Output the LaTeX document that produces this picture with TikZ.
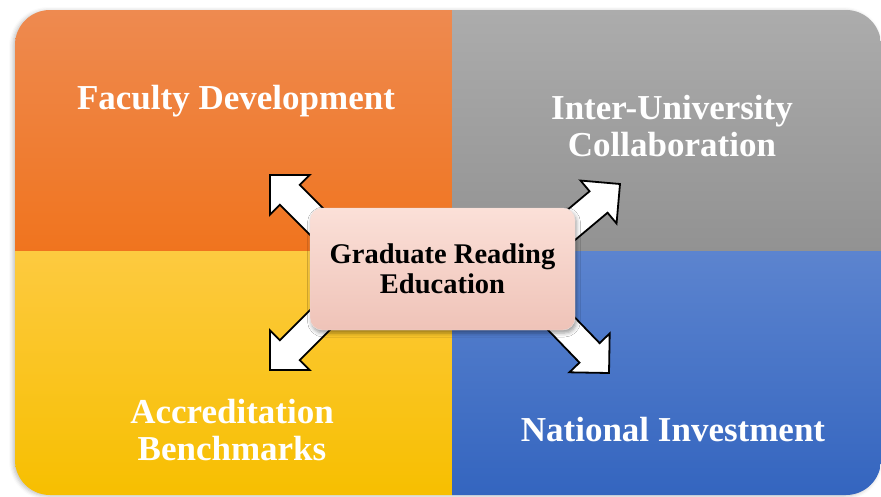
\documentclass[tikz,border=0pt]{standalone}
\usepackage{fontspec}
\setmainfont{Liberation Serif}
\usetikzlibrary{shadows.blur}

\definecolor{orgTop}{HTML}{EE8A50}
\definecolor{orgBot}{HTML}{F0741E}
\definecolor{gryTop}{HTML}{ACACAC}
\definecolor{gryBot}{HTML}{929292}
\definecolor{ylwTop}{HTML}{FDCA40}
\definecolor{ylwBot}{HTML}{F7BF00}
\definecolor{bluTop}{HTML}{5C84CF}
\definecolor{bluBot}{HTML}{3465BF}
\definecolor{boxTop}{HTML}{FBE0D8}
\definecolor{boxBot}{HTML}{EFC3B8}

\tikzset{
  quadlabel/.style={text=white, font=\bfseries\fontsize{35}{37}\selectfont, align=center, inner sep=0pt},
  hublabel/.style={text=black, font=\bfseries\fontsize{28.5}{30}\selectfont, align=center},
  hubbox/.style={rounded corners=12pt, minimum width=265pt, minimum height=122pt,
    top color=boxTop, bottom color=boxBot, draw=boxBot!80!black!30,
    blur shadow={shadow xshift=1.5pt, shadow yshift=-3pt, shadow opacity=40, shadow blur radius=4pt}},
  blockarrow/.style={draw=black, line width=1.8pt, fill=white, line join=miter},
}

% block arrow: tip coordinate, direction angle
\newcommand\spoke[2]{%
  \begin{scope}[shift={#1}, rotate=#2]
    \path[blockarrow] (0,0) -- (-28,28) -- (-28,14) -- (-82,14)
      -- (-82,-14) -- (-28,-14) -- (-28,-28) -- cycle;
  \end{scope}}

\begin{document}
\begin{tikzpicture}[x=1pt,y=-1pt]
\useasboundingbox (0,0) rectangle (881,496);

% soft shadow of the panel
\path[rounded corners=35pt, blur shadow={shadow xshift=-2pt, shadow yshift=-1pt, shadow opacity=25, shadow blur radius=4pt}]
  (15,10) rectangle (881,495);

% four quadrants
\begin{scope}
  \clip[rounded corners=35pt] (15,10) rectangle (881,495);
  \shade[top color=orgTop, bottom color=orgBot] (15,10) rectangle (452,251);
  \shade[top color=gryTop, bottom color=gryBot] (452,10) rectangle (881,251);
  \shade[top color=ylwTop, bottom color=ylwBot] (15,251) rectangle (452,495);
  \shade[top color=bluTop, bottom color=bluBot] (452,251) rectangle (881,495);
\end{scope}

% arrow tips
\coordinate (tipFD) at (270,175);
\coordinate (tipIU) at (620,184);
\coordinate (tipAB) at (270,370);
\coordinate (tipNI) at (609,373);

\spoke{(tipFD)}{135}
\spoke{(tipIU)}{40}
\spoke{(tipAB)}{225}
\spoke{(tipNI)}{-46}

% central hub
\node[hubbox, hublabel] (hub) at (442.5,269) {Graduate Reading\\Education};

% quadrant labels
\node[quadlabel] (fd) at (236,101) {Faculty Development};
\node[quadlabel] (iu) at (672,126) {Inter-University\\Collaboration};
\node[quadlabel] (ab) at (232,430) {Accreditation\\Benchmarks};
\node[quadlabel] (ni) at (673,430) {National Investment};
\end{tikzpicture}
\end{document}
